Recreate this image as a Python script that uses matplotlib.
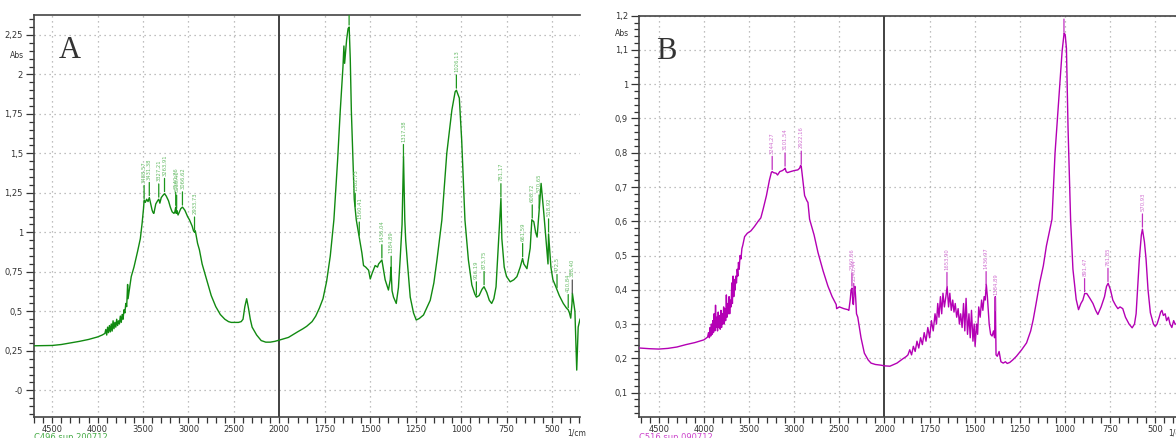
import numpy as np
import matplotlib
matplotlib.use("Agg")
import matplotlib.pyplot as plt
from matplotlib.ticker import FixedLocator, FixedFormatter, NullFormatter

# ---------------- data: spectrum A (green) ----------------
a_wn = [4700, 4600, 4500, 4400, 4300, 4200, 4100, 4000, 3950,
        3920, 3910, 3900, 3890, 3880, 3870, 3860, 3850, 3840, 3830, 3820, 3810, 3800,
        3790, 3780, 3770, 3760, 3750, 3740, 3730, 3720, 3710, 3700, 3690, 3680, 3670,
        3665, 3650, 3630, 3600, 3560, 3530, 3510, 3495, 3488, 3475, 3460, 3445, 3431,
        3415, 3400, 3390, 3381, 3360, 3340, 3327, 3315, 3300, 3280, 3264, 3245, 3220,
        3200, 3180, 3160, 3150, 3140, 3135, 3130, 3115, 3100, 3085, 3066, 3040, 3010,
        2990, 2960, 2945, 2933, 2925, 2900, 2880, 2850, 2800, 2750, 2700, 2650, 2600,
        2560, 2530, 2500, 2450, 2420, 2400, 2380, 2360, 2350, 2340, 2320, 2300, 2250,
        2200, 2150, 2100, 2050, 2000, 1950, 1900, 1870, 1850, 1820, 1800, 1780, 1760,
        1740, 1720, 1700, 1680, 1665, 1650, 1645, 1641, 1630, 1622, 1616, 1610, 1604,
        1595, 1588, 1580, 1577, 1565, 1546, 1537, 1525, 1509, 1500, 1490, 1473, 1460,
        1454, 1436, 1418, 1400, 1390, 1386, 1380, 1372, 1357, 1345, 1335, 1325, 1317,
        1310, 1305, 1295, 1280, 1262, 1247, 1230, 1207, 1190, 1170, 1150, 1133, 1106,
        1079, 1051, 1033, 1026, 1010, 997, 979, 960, 941, 925, 916, 901, 885, 874, 859,
        845, 832, 820, 808, 796, 781, 776, 763, 750, 730, 710, 693, 675, 662, 655, 638,
        620, 611, 600, 590, 582, 570, 560, 545, 522, 519, 506, 495, 484, 472, 460, 438,
        420, 411, 404, 397, 390, 388, 374, 364, 356, 346]
a_abs = [0.282, 0.283, 0.284, 0.290, 0.300, 0.310, 0.322, 0.338, 0.350,
         0.360, 0.385, 0.350, 0.400, 0.365, 0.410, 0.370, 0.420, 0.375, 0.440, 0.390, 0.430, 0.400,
         0.450, 0.410, 0.440, 0.420, 0.470, 0.430, 0.480, 0.450, 0.510, 0.490, 0.550, 0.530, 0.670,
         0.580, 0.640, 0.720, 0.780, 0.880, 0.960, 1.060, 1.150, 1.205, 1.190, 1.210, 1.195, 1.220,
         1.180, 1.140, 1.125, 1.120, 1.180, 1.200, 1.210, 1.185, 1.220, 1.235, 1.245, 1.230, 1.200,
         1.160, 1.130, 1.120, 1.130, 1.160, 1.120, 1.140, 1.110, 1.130, 1.150, 1.160, 1.140, 1.100,
         1.080, 1.040, 1.010, 1.000, 1.010, 0.930, 0.890, 0.800, 0.700, 0.600, 0.530, 0.480, 0.450,
         0.435, 0.430, 0.430, 0.430, 0.435, 0.450, 0.530, 0.580, 0.550, 0.520, 0.450, 0.400, 0.350,
         0.315, 0.305, 0.305, 0.310, 0.318, 0.335, 0.370, 0.390, 0.405, 0.435, 0.470, 0.520, 0.580,
         0.690, 0.850, 1.080, 1.450, 1.770, 2.050, 2.180, 2.070, 2.220, 2.290, 2.300, 2.100, 1.770,
         1.450, 1.210, 1.120, 1.080, 1.000, 0.870, 0.790, 0.780, 0.760, 0.705, 0.740, 0.790, 0.780,
         0.800, 0.825, 0.700, 0.635, 0.700, 0.780, 0.630, 0.590, 0.550, 0.650, 0.840, 1.050, 1.480,
         1.080, 0.950, 0.800, 0.590, 0.490, 0.445, 0.455, 0.477, 0.520, 0.570, 0.680, 0.825, 1.078,
         1.500, 1.774, 1.890, 1.900, 1.850, 1.585, 1.078, 0.825, 0.667, 0.610, 0.590, 0.600, 0.640, 0.656, 0.620,
         0.570, 0.550, 0.580, 0.655, 0.900, 1.215, 0.960, 0.780, 0.720, 0.687, 0.700, 0.720, 0.780, 0.835, 0.800, 0.770,
         0.900, 1.080, 1.067, 1.000, 0.970, 1.150, 1.310, 1.120, 0.800, 0.990, 0.780, 0.700, 0.670, 0.635, 0.600, 0.550,
         0.520, 0.510, 0.490, 0.457, 0.550, 0.615, 0.500, 0.128, 0.400, 0.450]

a_peaks = [3488.57, 3431.38, 3327.21, 3263.91, 3140.76, 3130.40, 3066.62, 2933.73,
           1616.35, 1582.73, 1560.41, 1436.04, 1384.89, 1317.38, 1026.13, 916.19,
           873.75, 781.17, 661.59, 608.72, 570.65, 518.92, 472.5, 410.84, 388.40]
a_peak_labels = ["3488,57", "3431,38", "3327,21", "3263,91", "3140,76", "3130,40",
                 "3066,62", "2933,73", "1616,35", "1582,73", "1560,41", "1436,04",
                 "1384,89", "1317,38", "1026,13", "916,19", "873,75", "781,17",
                 "661,59", "608,72", "570,65", "518,92", "472,5", "410,84", "388,40"]

# ---------------- data: spectrum B (magenta) ----------------
b_wn = [4710, 4600, 4500, 4400, 4300, 4200, 4100, 4000, 3960,
        3950, 3940, 3932, 3925, 3918, 3910, 3902, 3895, 3888, 3880, 3872, 3865, 3858,
        3850, 3842, 3835, 3828, 3820, 3812, 3805, 3798, 3790, 3782, 3775, 3768, 3760,
        3752, 3745, 3738, 3730, 3722, 3715, 3708, 3700, 3692, 3685, 3678, 3670, 3662,
        3655, 3648, 3640, 3632, 3625, 3618, 3610, 3600, 3590, 3580, 3570, 3550, 3520,
        3480, 3440, 3400, 3370, 3344, 3308, 3275, 3253, 3244, 3230, 3200, 3185, 3160,
        3130, 3110, 3101, 3090, 3075, 3040, 3000, 2960, 2940, 2929, 2922, 2905, 2885,
        2860, 2848, 2830, 2780, 2737, 2680, 2627, 2580, 2535, 2530, 2500, 2450, 2406,
        2395, 2380, 2370, 2360, 2350, 2344, 2335, 2328, 2320, 2310, 2296, 2260, 2223,
        2180, 2149, 2100, 2039, 2000, 1970, 1931, 1900, 1880,
        1870, 1860, 1850, 1840, 1830, 1820, 1810, 1800, 1790, 1780, 1770, 1760, 1750,
        1740, 1730, 1720, 1712, 1705, 1698, 1690, 1683, 1676, 1668, 1660, 1653, 1645,
        1638, 1630, 1622, 1615, 1608, 1600, 1592, 1585, 1578, 1570, 1562, 1555, 1548,
        1540, 1532, 1525, 1518, 1510, 1503, 1498, 1490, 1484, 1478, 1470, 1462, 1455,
        1448, 1442, 1436, 1430, 1420, 1412, 1404, 1396, 1390, 1386, 1382, 1375, 1365,
        1355, 1342, 1330, 1320, 1306, 1290, 1269, 1240, 1213, 1190, 1176, 1160, 1140,
        1120, 1103, 1072, 1055, 1038, 1016, 1005, 999, 992, 983, 969, 956, 938, 925,
        912, 901, 891, 879, 862, 845, 830, 818, 800, 781, 770, 761, 748, 735, 720, 707,
        695, 680, 665, 645, 628, 615, 606, 598, 588, 577, 571, 560, 551, 540, 527, 510,
        500, 490, 478, 470, 463, 455, 445, 437, 427, 418, 408, 398, 390, 380]
b_abs = [0.230, 0.228, 0.227, 0.229, 0.233, 0.240, 0.246, 0.254, 0.262,
         0.275, 0.260, 0.290, 0.265, 0.300, 0.270, 0.310, 0.275, 0.330, 0.280, 0.355, 0.290, 0.320,
         0.280, 0.335, 0.290, 0.325, 0.285, 0.340, 0.290, 0.330, 0.300, 0.350, 0.300, 0.345, 0.310,
         0.385, 0.320, 0.360, 0.330, 0.380, 0.330, 0.370, 0.350, 0.420, 0.360, 0.440, 0.380, 0.430,
         0.400, 0.440, 0.420, 0.460, 0.440, 0.480, 0.460, 0.500, 0.490, 0.520, 0.530, 0.555, 0.565,
         0.572, 0.585, 0.600, 0.610, 0.636, 0.675, 0.720, 0.743, 0.745, 0.742, 0.740, 0.735, 0.745,
         0.748, 0.752, 0.755, 0.745, 0.742, 0.745, 0.748, 0.750, 0.755, 0.763, 0.760, 0.720, 0.675,
         0.660, 0.655, 0.606, 0.560, 0.509, 0.455, 0.411, 0.380, 0.357, 0.345, 0.350, 0.345, 0.342,
         0.340, 0.370, 0.400, 0.405, 0.360, 0.357, 0.400, 0.410, 0.380, 0.330, 0.320, 0.260, 0.215,
         0.195, 0.186, 0.182, 0.180, 0.178, 0.177, 0.186, 0.198, 0.205,
         0.210, 0.225, 0.210, 0.235, 0.220, 0.250, 0.230, 0.260, 0.240, 0.275, 0.250, 0.290, 0.260,
         0.310, 0.280, 0.330, 0.300, 0.360, 0.320, 0.380, 0.330, 0.390, 0.350, 0.380, 0.410, 0.350,
         0.390, 0.340, 0.370, 0.335, 0.360, 0.320, 0.345, 0.300, 0.330, 0.290, 0.360, 0.280, 0.375,
         0.270, 0.330, 0.260, 0.340, 0.250, 0.300, 0.235, 0.300, 0.270, 0.350, 0.320, 0.370, 0.340,
         0.380, 0.370, 0.416, 0.380, 0.300, 0.270, 0.265, 0.280, 0.260, 0.380, 0.210, 0.206, 0.220,
         0.190, 0.186, 0.190, 0.185, 0.188, 0.195, 0.206, 0.225, 0.245, 0.280, 0.313, 0.360, 0.421,
         0.470, 0.528, 0.606, 0.800, 0.929, 1.096, 1.149, 1.145, 1.105, 0.870, 0.606, 0.460, 0.372, 0.342,
         0.360, 0.370, 0.389, 0.389, 0.375, 0.360, 0.340, 0.328, 0.350, 0.380, 0.410, 0.419, 0.400, 0.370, 0.355, 0.345,
         0.350, 0.345, 0.320, 0.300, 0.289, 0.300, 0.330, 0.400, 0.490, 0.560, 0.577, 0.540, 0.490, 0.400, 0.333, 0.300,
         0.293, 0.300, 0.320, 0.335, 0.340, 0.325, 0.330, 0.310, 0.320, 0.300, 0.290, 0.310, 0.300, 0.300]

b_peaks = [3244.27, 3101.54, 2922.16, 2360.66, 2340.44, 1653.90, 1436.97, 1384.89,
           1005.73, 891.47, 761.85, 570.93]
b_peak_labels = ["3244,27", "3101,54", "2922,16", "2360,66", "2340,44", "1653,90",
                 "1436,97", "1384,89", "1005,73", "891,47", "761,85", "570,93"]

x_major = [4500, 4000, 3500, 3000, 2500, 2000, 1750, 1500, 1250, 1000, 750, 500]
a_yticks = [0, 0.25, 0.5, 0.75, 1, 1.25, 1.5, 1.75, 2, 2.25]
a_ylabels = ["-0", "0,25", "0,5", "0,75", "1", "1,25", "1,5", "1,75", "2", "2,25"]
b_yticks = [0.1, 0.2, 0.3, 0.4, 0.5, 0.6, 0.7, 0.8, 0.9, 1.0, 1.1, 1.2]
b_ylabels = ["0,1", "0,2", "0,3", "0,4", "0,5", "0,6", "0,7", "0,8", "0,9", "1", "1,1", "1,2"]

W, H = 1176, 438
fig = plt.figure(figsize=(W / 100, H / 100), dpi=100)


def fwd(w):
    w = np.asarray(w, dtype=float)
    return np.where(w >= 2000, (w + 2000) / 2.0, w)


def inv(u):
    u = np.asarray(u, dtype=float)
    return np.where(u >= 2000, 2 * u - 2000, u)


def setup(ax, xlim, ylim, yt, yl, yminor):
    ax.set_xscale("function", functions=(fwd, inv))
    ax.set_xlim(*xlim)
    ax.set_ylim(*ylim)
    ax.xaxis.set_major_locator(FixedLocator(x_major))
    ax.xaxis.set_major_formatter(FixedFormatter([str(v) for v in x_major]))
    minors = list(range(2100, 4800, 100)) + list(range(350, 2000, 50))
    ax.xaxis.set_minor_locator(FixedLocator(minors))
    ax.xaxis.set_minor_formatter(NullFormatter())
    ax.yaxis.set_major_locator(FixedLocator(yt))
    ax.yaxis.set_major_formatter(FixedFormatter(yl))
    ax.yaxis.set_minor_locator(FixedLocator(yminor))
    ax.tick_params(axis="both", which="major", labelsize=6, colors="#333333",
                   length=5, width=0.9, direction="out")
    ax.tick_params(axis="x", which="both", length=4, width=0.9, pad=2)
    ax.tick_params(axis="y", which="minor", length=3.5, width=0.9, color="#333333")
    ax.tick_params(axis="x", which="minor", color="#333333")
    ax.tick_params(axis="y", which="major", length=6, pad=2)
    for s in ["top", "left", "bottom"]:
        ax.spines[s].set_color("#444444")
        ax.spines[s].set_linewidth(1.2)
    ax.spines["right"].set_visible(False)
    for v in x_major:
        if v != 2000:
            ax.axvline(v, color="#aaaaaa", lw=0.9, ls=(0, (1, 3)), zorder=0)
    for v in yt:
        ax.axhline(v, color="#aaaaaa", lw=0.9, ls=(0, (1, 3)), zorder=0)
    ax.axvline(2000, color="#333333", lw=1.3, zorder=1)


def label_peaks(ax, wn, ab, peaks, labels, lcol, tcol, special=None):
    wn_r = np.asarray(wn)[::-1]
    ab_r = np.asarray(ab)[::-1]
    for p, t in zip(peaks, labels):
        yv = np.interp(p, wn_r, ab_r)
        c_line = lcol
        if special is not None and t == special:
            c_line = "#555555"
        ann = ax.annotate(t, xy=(p, yv), xytext=(0, 13), textcoords="offset points",
                          rotation=90, ha="center", va="bottom", fontsize=3.8,
                          color=tcol, annotation_clip=False,
                          arrowprops=dict(arrowstyle="-", color=c_line, lw=0.9,
                                          shrinkA=0, shrinkB=1.5))
        ann.set_clip_on(True)
        ann.set_clip_path(ax.patch)
        ann.arrow_patch.set_clip_on(True)
        ann.arrow_patch.set_clip_path(ax.patch)


# ---- Panel A ----
axA = fig.add_axes([34 / W, 21.3 / H, 546 / W, 402 / H])
setup(axA, (4700, 346), (-0.167, 2.378), a_yticks, a_ylabels,
      list(np.round(np.arange(-0.15, 2.36, 0.05), 3)))
axA.plot(a_wn, a_abs, color="#118a11", lw=1.0, zorder=3)
label_peaks(axA, a_wn, a_abs, a_peaks, a_peak_labels, "#1c961c", "#66bb66", special="388,40")
axA.text(0.066, 0.91, "A", transform=axA.transAxes, fontsize=22, family="Liberation Serif",
         color="#333333", ha="center", va="center")
fig.text(17 / W, 1 - 55 / H, "Abs", fontsize=5.5, color="#333333", ha="center", va="center")
fig.text(34 / W, 1 - 438 / H, "C496 sup 200712", fontsize=6, color="#44aa44", ha="left", va="center")
fig.text(567 / W, 1 - 433 / H, "1/cm", fontsize=5.5, color="#333333", ha="left", va="center")

# ---- Panel B ----
axB = fig.add_axes([639 / W, 21.3 / H, 537 / W, 401 / H])
setup(axB, (4720, 385), (0.0296, 1.2), b_yticks, b_ylabels,
      list(np.round(np.arange(0.04, 1.201, 0.02), 3)))
axB.plot(b_wn, b_abs, color="#b400b4", lw=1.0, zorder=3)
label_peaks(axB, b_wn, b_abs, b_peaks, b_peak_labels, "#c030c0", "#d070d0")
axB.text(0.05, 0.91, "B", transform=axB.transAxes, fontsize=22, family="Liberation Serif",
         color="#333333", ha="center", va="center")
fig.text(622 / W, 1 - 34 / H, "Abs", fontsize=5.5, color="#333333", ha="center", va="center")
fig.text(639 / W, 1 - 438 / H, "C516 sup 090712", fontsize=6, color="#cc44cc", ha="left", va="center")
fig.text(1168 / W, 1 - 433 / H, "1/cm", fontsize=5.5, color="#333333", ha="left", va="center")

fig.savefig("out.png", dpi=100)
